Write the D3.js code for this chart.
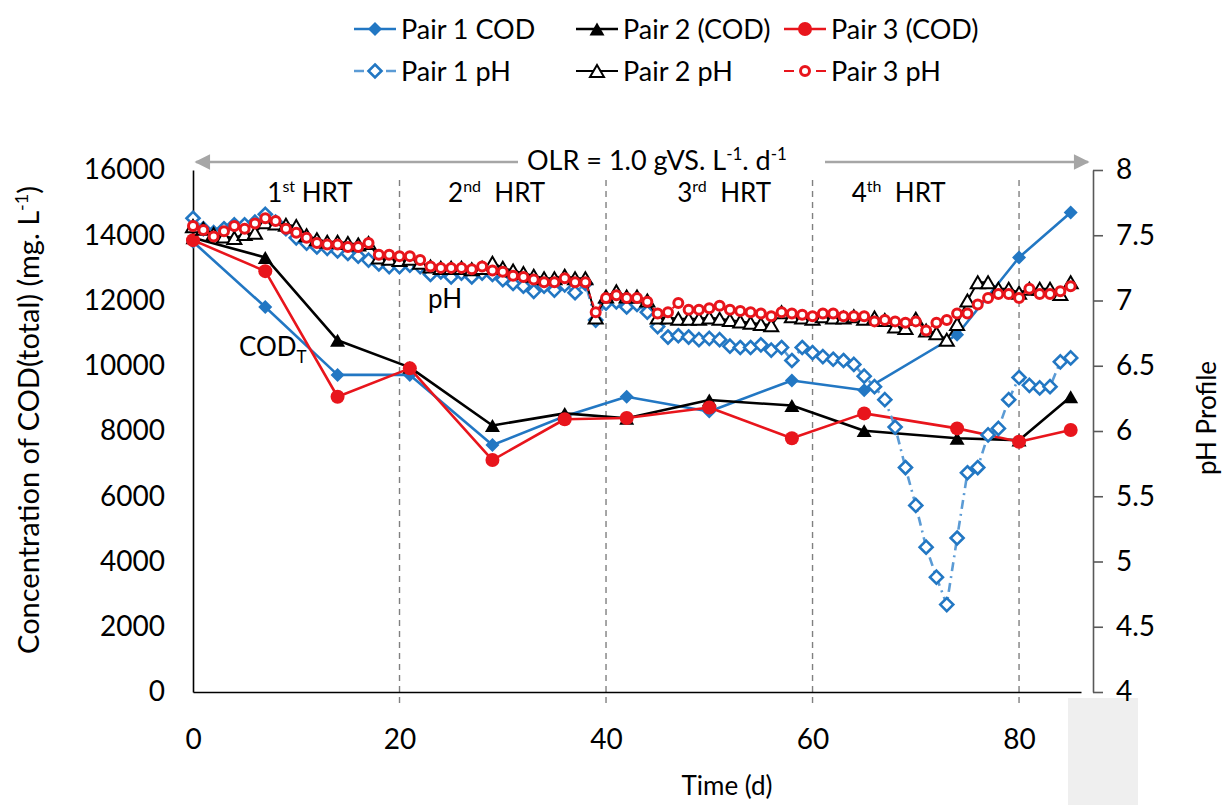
<!DOCTYPE html>
<html>
<head>
<meta charset="utf-8">
<script src="https://cdn.jsdelivr.net/npm/d3@7"></script>
<style>
  body { margin: 0; background: #fff; }
  svg { display: block; }
  text { font-family: Lato, "Open Sans", sans-serif; fill: #000; }
</style>
</head>
<body>
<svg id="chart" width="1222" height="805"></svg>
<script>
// ---- COD sampling (mg/L) ----
const codDays  = [0, 7, 14, 21, 29, 36, 42, 50, 58, 65, 74, 80, 85];
const codPair1 = [13800, 11800, 9720, 9720, 7570, 8450, 9050, 8600, 9550, 9250, 10950, 13320, 14700];
const codPair2 = [13920, 13320, 10780, 9950, 8170, 8540, 8390, 8950, 8780, 8010, 7780, 7720, 9050];
const codPair3 = [13850, 12900, 9050, 9920, 7110, 8360, 8400, 8720, 7780, 8540, 8080, 7670, 8030];

// ---- daily pH ----
const phDays = [0,1,2,3,4,5,6,7,8,9,10,11,12,13,14,15,16,17,18,19,20,21,22,23,24,25,26,27,28,29,
  30,31,32,33,34,35,36,37,38,39,40,41,42,43,44,45,46,47,48,49,50,51,52,53,54,55,56,57,58,59,
  60,61,62,63,64,65,66,67,68,69,70,71,72,73,74,75,76,77,78,79,80,81,82,83,84,85];
const phPair1 = [7.63,7.55,7.52,7.55,7.58,7.58,7.60,7.66,7.60,7.55,7.48,7.44,7.41,7.40,7.38,7.36,7.34,7.31,7.28,7.26,
  7.26,7.27,7.26,7.20,7.22,7.18,7.21,7.18,7.21,7.20,7.16,7.13,7.11,7.07,7.11,7.08,7.12,7.06,7.13,6.85,
  6.98,6.99,6.95,6.97,6.91,6.80,6.72,6.73,6.72,6.70,6.71,6.70,6.65,6.64,6.64,6.66,6.62,6.64,6.54,6.64,
  6.60,6.57,6.55,6.54,6.51,6.42,6.34,6.24,6.03,5.72,5.43,5.11,4.88,4.67,5.18,5.68,5.72,5.97,6.02,6.24,
  6.41,6.35,6.33,6.34,6.53,6.56];
const phPair2 = [7.57,7.55,7.51,7.49,7.48,7.51,7.52,7.60,7.59,7.58,7.57,7.50,7.47,7.45,7.45,7.44,7.43,7.44,7.33,7.32,
  7.31,7.32,7.29,7.26,7.25,7.25,7.25,7.24,7.25,7.29,7.25,7.23,7.21,7.19,7.17,7.17,7.19,7.17,7.17,6.87,
  7.03,7.07,7.03,7.03,7.00,6.87,6.87,6.86,6.86,6.86,6.87,6.86,6.85,6.84,6.83,6.82,6.81,6.91,6.88,6.87,
  6.86,6.88,6.87,6.87,6.88,6.86,6.87,6.85,6.80,6.79,6.86,6.77,6.75,6.70,6.82,7.00,7.14,7.14,7.09,7.09,
  7.06,7.09,7.09,7.09,7.05,7.14];
const phPair3 = [7.57,7.54,7.49,7.53,7.57,7.55,7.59,7.63,7.61,7.55,7.52,7.48,7.44,7.43,7.43,7.41,7.41,7.44,7.35,7.35,
  7.34,7.34,7.31,7.26,7.25,7.25,7.25,7.24,7.26,7.23,7.22,7.19,7.18,7.16,7.14,7.14,7.17,7.14,7.14,6.91,
  7.02,7.04,7.02,7.02,6.99,6.90,6.91,6.98,6.93,6.93,6.94,6.96,6.93,6.92,6.91,6.90,6.88,6.91,6.90,6.89,
  6.88,6.90,6.90,6.88,6.88,6.88,6.84,6.85,6.84,6.83,6.84,6.77,6.83,6.85,6.90,6.90,6.97,7.02,7.05,7.05,
  7.02,7.09,7.05,7.05,7.07,7.11];

// ---- axes ----
const codTicks  = [0, 2000, 4000, 6000, 8000, 10000, 12000, 14000, 16000];
const phTicks   = [4, 4.5, 5, 5.5, 6, 6.5, 7, 7.5, 8];
const timeTicks = [0, 20, 40, 60, 80];
const hrtBounds = [20, 40, 60, 80];
const hrtLabels = [["1", "st", " HRT"], ["2", "nd", "  HRT"], ["3", "rd", "  HRT"], ["4", "th", "  HRT"]];
const hrtStartDay = [7.2, 24.7, 46.9, 63.8];

const seriesNames = ["Pair 1 COD", "Pair 2 (COD)", "Pair 3 (COD)", "Pair 1 pH", "Pair 2 pH", "Pair 3 pH"];

// ---- layout ----
const svg = d3.select("#chart");
const plot = { left: 193, right: 1081, top: 170, bottom: 692 };
const x  = d3.scaleLinear().domain([0, 86]).range([plot.left, plot.right]);
const yL = d3.scaleLinear().domain([0, 16000]).range([plot.bottom, plot.top]);
const yR = d3.scaleLinear().domain([4, 8]).range([plot.bottom, plot.top]);

const BLUE = "#2277c3", LBLUE = "#5b9bd5", RED = "#e8151c", BLACK = "#000";

// marker shapes (size = full width in px)
const diamondType = { draw(ctx, s) { const r = s / 2; ctx.moveTo(0, -r); ctx.lineTo(r, 0); ctx.lineTo(0, r); ctx.lineTo(-r, 0); ctx.closePath(); } };
const triangleType = { draw(ctx, s) { const h = s * 0.86; ctx.moveTo(0, -h / 2); ctx.lineTo(s / 2, h / 2); ctx.lineTo(-s / 2, h / 2); ctx.closePath(); } };
const circleType = { draw(ctx, s) { const r = s / 2; ctx.moveTo(r, 0); ctx.arc(0, 0, r, 0, 2 * Math.PI); } };

const styles = {
  "Pair 1 COD":   { color: BLUE,  line: BLUE,  width: 2.6, dash: null, shape: diamondType,  size: 14, fill: BLUE,  sw: 0 },
  "Pair 2 (COD)": { color: BLACK, line: BLACK, width: 2.6, dash: null, shape: triangleType, size: 15, fill: BLACK, sw: 0 },
  "Pair 3 (COD)": { color: RED,   line: RED,   width: 2.6, dash: null, shape: circleType,   size: 14, fill: RED,   sw: 0 },
  "Pair 1 pH":    { color: BLUE,  line: LBLUE, width: 2.6, dash: "9,5,2,5", shape: diamondType, size: 13, fill: "#fff", sw: 2.6 },
  "Pair 2 pH":    { color: BLACK, line: BLACK, width: 2,   dash: null, shape: triangleType, size: 14, fill: "#fff", sw: 2 },
  "Pair 3 pH":    { color: RED,   line: RED,   width: 2,   dash: "5,3", shape: circleType,  size: 9,  fill: "#fff", sw: 3 }
};

// light box below the right end of the time axis
svg.append("rect").attr("x", 1068).attr("y", 698).attr("width", 70).attr("height", 107).attr("fill", "#efefef");

// HRT boundaries
svg.append("g").selectAll("line").data(hrtBounds).join("line")
  .attr("x1", d => x(d)).attr("x2", d => x(d))
  .attr("y1", 180).attr("y2", 703)
  .attr("stroke", "#808080").attr("stroke-width", 1.4).attr("stroke-dasharray", "6,5");

// axes
const axL = svg.append("g").attr("transform", `translate(${plot.left},0)`)
  .call(d3.axisLeft(yL).tickValues(codTicks).tickSize(0).tickSizeOuter(0).tickPadding(28).tickFormat(d3.format("d")));
const axR = svg.append("g").attr("transform", `translate(1093,0)`)
  .call(d3.axisRight(yR).tickValues(phTicks).tickSize(10).tickSizeOuter(0).tickPadding(13).tickFormat(d => String(d)));
const axB = svg.append("g").attr("transform", `translate(0,${plot.bottom})`)
  .call(d3.axisBottom(x).tickValues(timeTicks).tickSize(0).tickSizeOuter(0).tickPadding(37));
[axL, axR, axB].forEach(a => {
  a.selectAll("text").style("font-family", "Lato, 'Open Sans', sans-serif").style("font-size", "28px").attr("fill", "#000");
});
axL.select(".domain").attr("stroke", "#000").attr("stroke-width", 1.6);
axB.select(".domain").attr("stroke", "#000").attr("stroke-width", 1.6);
axR.select(".domain").attr("stroke", "#595959").attr("stroke-width", 1.6);
axR.selectAll(".tick line").attr("stroke", "#595959").attr("stroke-width", 1.6);

// axis titles
const tL = svg.append("text").attr("transform", "translate(39,420) rotate(-90)").attr("text-anchor", "middle").style("font-size", "29px");
tL.append("tspan").text("Concentration of COD(total) (mg. L");
tL.append("tspan").attr("dy", -11).style("font-size", "18px").text("-1");
tL.append("tspan").attr("dy", 11).text(")");
svg.append("text").attr("transform", "translate(1216,418) rotate(-90)").attr("text-anchor", "middle").style("font-size", "26px").text("pH Profile");
svg.append("text").attr("x", 727).attr("y", 795).attr("text-anchor", "middle").style("font-size", "26px").text("Time (d)");

// OLR arrow
const arrowG = svg.append("g");
const defs = svg.append("defs");
defs.append("marker").attr("id", "ah").attr("viewBox", "0 0 10 10").attr("refX", 9).attr("refY", 5)
  .attr("markerWidth", 7).attr("markerHeight", 6).attr("markerUnits", "strokeWidth").attr("orient", "auto-start-reverse")
  .append("path").attr("d", "M0,0 L10,5 L0,10 Z").attr("fill", "#a6a6a6");
arrowG.append("line").attr("x1", 518).attr("x2", 196).attr("y1", 162).attr("y2", 162)
  .attr("stroke", "#a6a6a6").attr("stroke-width", 2.6).attr("marker-end", "url(#ah)");
arrowG.append("line").attr("x1", 825).attr("x2", 1088).attr("y1", 162).attr("y2", 162)
  .attr("stroke", "#a6a6a6").attr("stroke-width", 2.6).attr("marker-end", "url(#ah)");
const olr = svg.append("text").attr("x", 527).attr("y", 170).style("font-size", "27px");
olr.append("tspan").text("OLR = 1.0 gVS. L");
olr.append("tspan").attr("dy", -10).style("font-size", "17px").text("-1");
olr.append("tspan").attr("dy", 10).text(". d");
olr.append("tspan").attr("dy", -10).style("font-size", "17px").text("-1");

// HRT labels
hrtLabels.forEach((lab, i) => {
  const t = svg.append("text").attr("x", x(hrtStartDay[i])).attr("y", 202).style("font-size", "26px").attr("xml:space", "preserve");
  t.append("tspan").text(lab[0]);
  t.append("tspan").attr("dy", -10).style("font-size", "16px").text(lab[1]);
  t.append("tspan").attr("dy", 10).text(lab[2]);
});

// in-plot labels
svg.append("text").attr("x", 428).attr("y", 308).style("font-size", "26px").text("pH");
const codT = svg.append("text").attr("x", 239).attr("y", 356).style("font-size", "26px");
codT.append("tspan").text("COD");
codT.append("tspan").attr("dy", 7).style("font-size", "17px").text("T");

// series drawing
function drawSeries(name, days, vals, yScale) {
  const st = styles[name];
  const pts = days.map((d, i) => [d, vals[i]]);
  const g = svg.append("g");
  const line = d3.line().x(d => x(d[0])).y(d => yScale(d[1]));
  g.append("path").attr("d", line(pts)).attr("fill", "none")
    .attr("stroke", st.line).attr("stroke-width", st.width)
    .attr("stroke-dasharray", st.dash).attr("stroke-linejoin", "round");
  g.selectAll("path.m").data(pts).join("path").attr("class", "m")
    .attr("transform", d => `translate(${x(d[0])},${yScale(d[1])})`)
    .attr("d", d3.symbol().type(st.shape).size(st.size)())
    .attr("fill", st.fill).attr("stroke", st.sw ? st.color : "none").attr("stroke-width", st.sw);
}

drawSeries("Pair 1 COD", codDays, codPair1, yL);
drawSeries("Pair 2 (COD)", codDays, codPair2, yL);
drawSeries("Pair 3 (COD)", codDays, codPair3, yL);
drawSeries("Pair 1 pH", phDays, phPair1, yR);
drawSeries("Pair 2 pH", phDays, phPair2, yR);
drawSeries("Pair 3 pH", phDays, phPair3, yR);

// legend
const legCols = [354, 576, 784];
const legRows = [29, 71];
seriesNames.forEach((name, i) => {
  const st = styles[name];
  const cx = legCols[i % 3], cy = legRows[Math.floor(i / 3)];
  const g = svg.append("g").attr("transform", `translate(${cx},${cy})`);
  g.append("line").attr("x1", 0).attr("x2", 42).attr("y1", 0).attr("y2", 0)
    .attr("stroke", st.line).attr("stroke-width", st.width)
    .attr("stroke-dasharray", i >= 3 && st.dash ? "10,22" : null);
  g.append("path").attr("transform", "translate(21,0)")
    .attr("d", d3.symbol().type(st.shape).size(st.size)())
    .attr("fill", st.fill).attr("stroke", st.sw ? st.color : "none").attr("stroke-width", st.sw);
  g.append("text").attr("x", 47).attr("y", 0).attr("dy", "0.36em").style("font-size", "27px").text(name);
});
</script>
</body>
</html>
